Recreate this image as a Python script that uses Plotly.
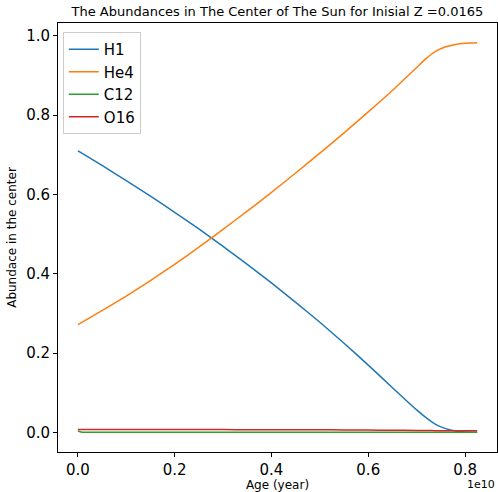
import plotly.graph_objects as go

# Age in years
age = [0.0, 0.01e10, 0.05e10, 0.1e10, 0.15e10, 0.2e10, 0.25e10, 0.3e10, 0.35e10, 0.4e10,
       0.45e10, 0.5e10, 0.55e10, 0.6e10, 0.65e10, 0.7e10, 0.72e10, 0.74e10, 0.76e10,
       0.78e10, 0.8e10, 0.825e10]
h1 = [0.710, 0.703, 0.673, 0.635, 0.596, 0.555, 0.513, 0.469, 0.424, 0.377,
      0.328, 0.278, 0.225, 0.170, 0.113, 0.057, 0.037, 0.020, 0.010,
      0.004, 0.0015, 0.001]
he4 = [0.272, 0.279, 0.307, 0.344, 0.383, 0.424, 0.467, 0.512, 0.558, 0.605,
       0.654, 0.704, 0.755, 0.808, 0.862, 0.920, 0.943, 0.961, 0.972,
       0.978, 0.981, 0.982]
c12 = [0.0040, 0.0008, 0.0006, 0.0006, 0.0006, 0.0006, 0.0006, 0.0006, 0.0006, 0.0006,
       0.0006, 0.0006, 0.0006, 0.0006, 0.0006, 0.0006, 0.0006, 0.0006, 0.0006,
       0.0006, 0.0006, 0.0006]
o16 = [0.0075, 0.0075, 0.0075, 0.0075, 0.0075, 0.0075, 0.0074, 0.0074, 0.0073, 0.0072,
       0.0071, 0.0069, 0.0066, 0.0062, 0.0058, 0.0053, 0.0050, 0.0048, 0.0046,
       0.0045, 0.0044, 0.0044]

x_ticks = [0.0, 0.2e10, 0.4e10, 0.6e10, 0.8e10]
x_tick_labels = ["0.0", "0.2", "0.4", "0.6", "0.8"]
y_ticks = [0.0, 0.2, 0.4, 0.6, 0.8, 1.0]
y_tick_labels = ["0.0", "0.2", "0.4", "0.6", "0.8", "1.0"]

series = [("H1", h1, "#1f77b4"), ("He4", he4, "#ff7f0e"),
          ("C12", c12, "#2ca02c"), ("O16", o16, "#d62728")]

fig = go.Figure()
for name, vals, col in series:
    fig.add_trace(go.Scatter(x=age, y=vals, mode="lines", name=name,
                             line=dict(color=col, width=1.5, shape="spline", smoothing=0.4)))

font = "DejaVu Sans, sans-serif"
fig.update_layout(
    width=498, height=492,
    margin=dict(l=58, r=1, t=23, b=40),
    paper_bgcolor="white", plot_bgcolor="white",
    font=dict(family=font, color="black"),
    title=dict(text="The Abundances in The Center of The Sun for Inisial Z =0.0165",
               x=0.557, xanchor="center", y=0.976, yanchor="middle",
               font=dict(size=13, family=font, color="black")),
    showlegend=True,
    legend=dict(x=0.011, y=0.979, xanchor="left", yanchor="top",
                bgcolor="rgba(255,255,255,0.8)", bordercolor="#cccccc", borderwidth=1,
                font=dict(size=15, family=font), tracegroupgap=0, itemwidth=30),
    xaxis=dict(range=[-0.041e10, 0.866e10], tickvals=x_ticks, ticktext=x_tick_labels,
               showgrid=False, zeroline=False, showline=True, linecolor="black",
               linewidth=1, mirror=True, ticks="outside", ticklen=4, tickcolor="black",
               tickfont=dict(size=15, family=font),
               title=dict(text="Age (year)", font=dict(size=12, family=font), standoff=4)),
    yaxis=dict(range=[-0.049, 1.032], tickvals=y_ticks, ticktext=y_tick_labels,
               showgrid=False, zeroline=False, showline=True, linecolor="black",
               linewidth=1, mirror=True, ticks="outside", ticklen=4, tickcolor="black",
               tickfont=dict(size=15, family=font),
               title=dict(text="Abundace in the center", font=dict(size=12, family=font), standoff=6)),
)
fig.add_annotation(text="1e10", xref="paper", yref="paper", x=1.0, y=-0.055,
                   xanchor="right", yanchor="top", showarrow=False,
                   font=dict(size=11, family=font, color="black"))
fig.write_html("out.html")
